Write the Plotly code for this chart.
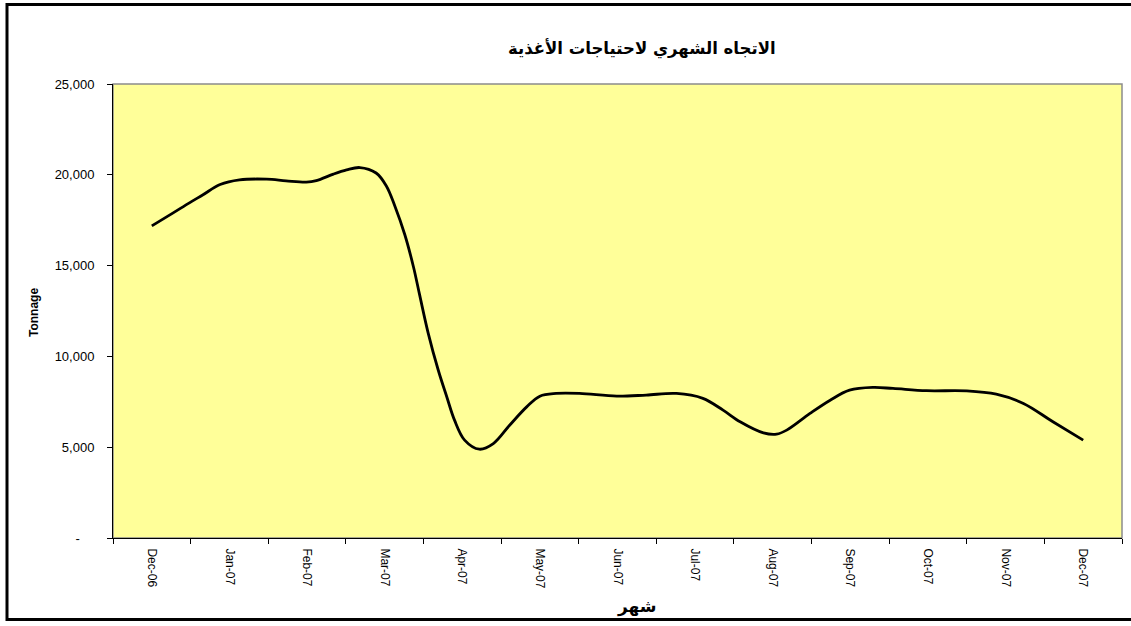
import plotly.graph_objects as go

# ---- data ----
month_labels = ["Dec-06", "Jan-07", "Feb-07", "Mar-07", "Apr-07", "May-07", "Jun-07",
                "Jul-07", "Aug-07", "Sep-07", "Oct-07", "Nov-07", "Dec-07"]

# position along the month axis (0 = Dec-06 ... 12 = Dec-07)
month_pos = [0.00, 0.27, 0.49, 0.66, 0.88, 1.13, 1.48, 1.73, 1.99, 2.12, 2.34, 2.51,
             2.68, 2.89, 3.02, 3.13, 3.26, 3.37, 3.45, 3.56, 3.69, 3.80, 3.90, 4.03,
             4.22, 4.40, 4.61, 4.83, 5.00, 5.21, 5.51, 5.99, 6.37, 6.76, 7.10, 7.36,
             7.58, 7.88, 8.05, 8.18, 8.48, 8.74, 8.99, 9.29, 9.55, 9.98, 10.50, 10.88,
             11.23, 11.61, 12.00]
tonnage = [17190, 17890, 18470, 18900, 19465, 19720, 19760, 19670, 19600, 19680, 20040, 20270,
           20400, 20100, 19400, 18300, 16700, 14950, 13400, 11300, 9250, 7780, 6490, 5390,
           4890, 5200, 6210, 7220, 7810, 7960, 7960, 7810, 7870, 7960, 7690, 7040,
           6400, 5790, 5720, 5940, 6860, 7590, 8140, 8290, 8235, 8110, 8100, 7920,
           7410, 6400, 5390]

y_tick_vals = [0, 5000, 10000, 15000, 20000, 25000]
y_tick_text = ["-\u00a0\u00a0\u00a0\u00a0", "5,000", "10,000", "15,000", "20,000", "25,000"]

title_text = "الاتجاه الشهري لاحتياجات الأغذية"
x_title_text = "شهر"
y_title_text = "Tonnage"

# ---- figure ----
W, H = 1131, 626
L, R, T, B = 113, 9, 84, 88
pw, ph = W - L - R, H - T - B

def px_x(p):
    return (p - L) / pw

def px_y(p):
    return (H - B - p) / ph

font_latin = "Liberation Sans, Arial, sans-serif"
font_arabic = "DejaVu Sans, Liberation Sans, sans-serif"

fig = go.Figure()
fig.add_trace(go.Scatter(
    x=month_pos, y=tonnage, mode="lines",
    line=dict(color="black", width=2.8, shape="spline", smoothing=1.0),
    showlegend=False, hoverinfo="skip",
))

n = len(month_labels)
fig.update_layout(
    width=W, height=H,
    margin=dict(l=L, r=R, t=T, b=B, pad=0),
    paper_bgcolor="white",
    plot_bgcolor="#FFFF99",
    font=dict(family=font_latin, size=12, color="black"),
    xaxis=dict(
        range=[-0.5, n - 0.5],
        tickmode="array",
        tickvals=list(range(n)),
        ticktext=month_labels,
        ticks="",
        tickangle=90,
        tickfont=dict(size=12, family=font_latin, color="black"),
        ticklabelstandoff=7,
        showline=True, linecolor="black", linewidth=1,
        showgrid=False, zeroline=False, fixedrange=True,
        minor=dict(tickmode="array", tickvals=[i - 0.5 for i in range(n + 1)],
                   ticks="outside", ticklen=5, tickcolor="black", tickwidth=1,
                   showgrid=False),
    ),
    yaxis=dict(
        range=[0, 25000],
        tickmode="array",
        tickvals=y_tick_vals,
        ticktext=y_tick_text,
        ticks="outside", ticklen=5, tickcolor="black", tickwidth=1,
        tickfont=dict(size=13, family=font_latin, color="black"),
        ticklabelstandoff=10,
        showline=True, linecolor="black", linewidth=1,
        showgrid=False, zeroline=False, fixedrange=True,
    ),
    shapes=[
        dict(type="rect", xref="paper", yref="paper", x0=0, x1=1, y0=0, y1=1,
             line=dict(color="#8c8c8c", width=1.5), layer="below"),
        dict(type="rect", xref="paper", yref="paper",
             x0=px_x(7), x1=px_x(1140), y0=px_y(619.5), y1=px_y(4.5),
             line=dict(color="black", width=3), fillcolor="rgba(0,0,0,0)", layer="above"),
    ],
    annotations=[
        dict(text="<b>" + title_text + "</b>", xref="paper", yref="paper",
             x=px_x(642), y=px_y(48), xanchor="center", yanchor="middle",
             showarrow=False, font=dict(family=font_arabic, size=16.5, color="black")),
        dict(text="<b>" + x_title_text + "</b>", xref="paper", yref="paper",
             x=px_x(637), y=px_y(606), xanchor="center", yanchor="middle",
             showarrow=False, font=dict(family=font_arabic, size=17, color="black")),
        dict(text="<b>" + y_title_text + "</b>", xref="paper", yref="paper",
             x=px_x(34), y=px_y(313), xanchor="center", yanchor="middle",
             textangle=-90, showarrow=False,
             font=dict(family=font_latin, size=12, color="black")),
    ],
)

fig.write_html(
    "out.html",
    config={"displayModeBar": False, "staticPlot": True},
    post_script="document.body.style.margin='0';document.body.style.overflow='hidden';",
)
